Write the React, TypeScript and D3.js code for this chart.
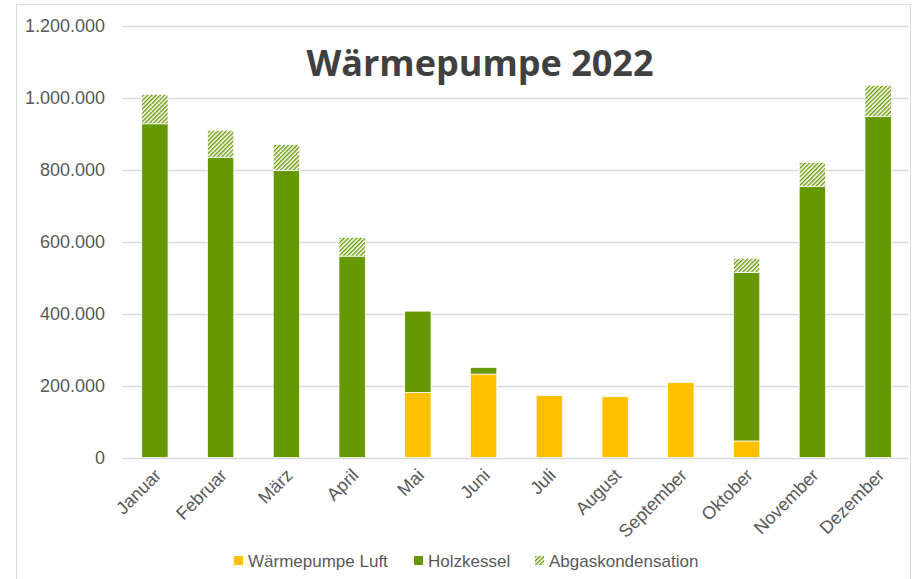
import React, { useEffect, useRef } from "react";
import * as d3 from "d3";

const months = ["Januar", "Februar", "März", "April", "Mai", "Juni", "Juli", "August", "September", "Oktober", "November", "Dezember"];
const waermepumpeLuft = [0, 0, 0, 0, 181000, 232000, 172000, 169000, 208000, 46000, 0, 0];
const holzkessel = [928000, 835000, 798000, 560000, 226000, 18000, 0, 0, 0, 469000, 754000, 948000];
const abgaskondensation = [82000, 75000, 72000, 52000, 0, 0, 0, 0, 0, 39000, 66000, 87000];
const seriesNames = ["Wärmepumpe Luft", "Holzkessel", "Abgaskondensation"];
const yTicks = [0, 200000, 400000, 600000, 800000, 1000000, 1200000];

const drawChart = (el: SVGSVGElement) => {
  const width = 914;
  const height = 579;
  const svg = d3.select(el);
  svg.selectAll("*").remove();
  svg.attr("width", width).attr("height", height);

  const defs = svg.append("defs");
  const pat = defs
    .append("pattern")
    .attr("id", "hatch")
    .attr("patternUnits", "userSpaceOnUse")
    .attr("width", 3)
    .attr("height", 3)
    .attr("patternTransform", "rotate(45)");
  pat.append("rect").attr("width", 3).attr("height", 3).attr("fill", "#ffffff");
  pat.append("rect").attr("width", 1.4).attr("height", 3).attr("fill", "#669900");

  // chart frame
  svg
    .append("rect")
    .attr("x", 16.5)
    .attr("y", 4.5)
    .attr("width", 894)
    .attr("height", 620)
    .attr("fill", "#ffffff")
    .attr("stroke", "#d9d9d9");

  const x = d3.scaleBand().domain(months).range([122, 911]).paddingInner(0.6).paddingOuter(0.3);
  const y = d3.scaleLinear().domain([0, 1200000]).range([457.5, 26]);

  // gridlines
  svg
    .append("g")
    .selectAll("line")
    .data(yTicks)
    .enter()
    .append("line")
    .attr("x1", 122)
    .attr("x2", 908)
    .attr("y1", (d) => Math.round(y(d)) + 0.5)
    .attr("y2", (d) => Math.round(y(d)) + 0.5)
    .attr("stroke", "#d9d9d9")
    .attr("stroke-width", 1.3);

  // y labels
  const fmt = (v: number) => d3.format(",")(v).replace(/,/g, ".");
  svg
    .append("g")
    .selectAll("text")
    .data(yTicks)
    .enter()
    .append("text")
    .attr("x", 105)
    .attr("y", (d) => y(d))
    .attr("dy", "0.36em")
    .attr("text-anchor", "end")
    .attr("font-family", "'Liberation Sans', Arial, sans-serif")
    .attr("font-size", 18)
    .attr("fill", "#595959")
    .text((d) => fmt(d));

  // stacked bars
  const rows = months.map((m, i) => ({
    month: m,
    wp: waermepumpeLuft[i],
    holz: holzkessel[i],
    abgas: abgaskondensation[i],
  }));
  const stack = d3.stack<any>().keys(["wp", "holz", "abgas"]);
  const fills = ["#ffc000", "#669900", "url(#hatch)"];
  const layers = stack(rows);

  svg
    .append("g")
    .selectAll("g")
    .data(layers)
    .enter()
    .append("g")
    .attr("fill", (d, i) => fills[i])
    .selectAll("rect")
    .data((d) => d.filter((s) => s[1] - s[0] > 0))
    .enter()
    .append("rect")
    .attr("x", (d) => x(d.data.month)!)
    .attr("width", x.bandwidth())
    .attr("y", (d) => y(d[1]))
    .attr("height", (d) => y(d[0]) - y(d[1]))
    .attr("stroke", "#ffffff")
    .attr("stroke-width", 0.7);

  // x labels
  svg
    .append("g")
    .selectAll("text")
    .data(months)
    .enter()
    .append("text")
    .attr("transform", (d) => "translate(" + (x(d)! + x.bandwidth() / 2 + 3) + ",472) rotate(-45)")
    .attr("text-anchor", "end")
    .attr("dy", "0.35em")
    .attr("font-family", "'Liberation Sans', Arial, sans-serif")
    .attr("font-size", 18)
    .attr("fill", "#595959")
    .text((d) => d);

  // title
  svg
    .append("text")
    .attr("x", 480)
    .attr("y", 76)
    .attr("text-anchor", "middle")
    .attr("font-family", "'Open Sans', sans-serif")
    .attr("font-weight", "bold")
    .attr("font-size", 36)
    .attr("fill", "#404040")
    .text("Wärmepumpe 2022");

  // legend
  const legendX = [234, 414, 535];
  const legend = svg
    .append("g")
    .selectAll("g")
    .data(seriesNames)
    .enter()
    .append("g")
    .attr("transform", (d, i) => "translate(" + legendX[i] + ",556)");
  legend
    .append("rect")
    .attr("width", 9)
    .attr("height", 9)
    .attr("fill", (d, i) => fills[i]);
  legend
    .append("text")
    .attr("x", 14)
    .attr("y", 11)
    .attr("font-family", "'Liberation Sans', Arial, sans-serif")
    .attr("font-size", 17)
    .attr("fill", "#595959")
    .text((d) => d);
};

const App = () => {
  const ref = useRef<SVGSVGElement>(null);
  useEffect(() => {
    if (ref.current) drawChart(ref.current);
  });
  return (
    <div style={{ position: "absolute", left: 0, top: 0 }}>
      <svg ref={ref} style={{ display: "block" }}></svg>
    </div>
  );
};

export default App;
